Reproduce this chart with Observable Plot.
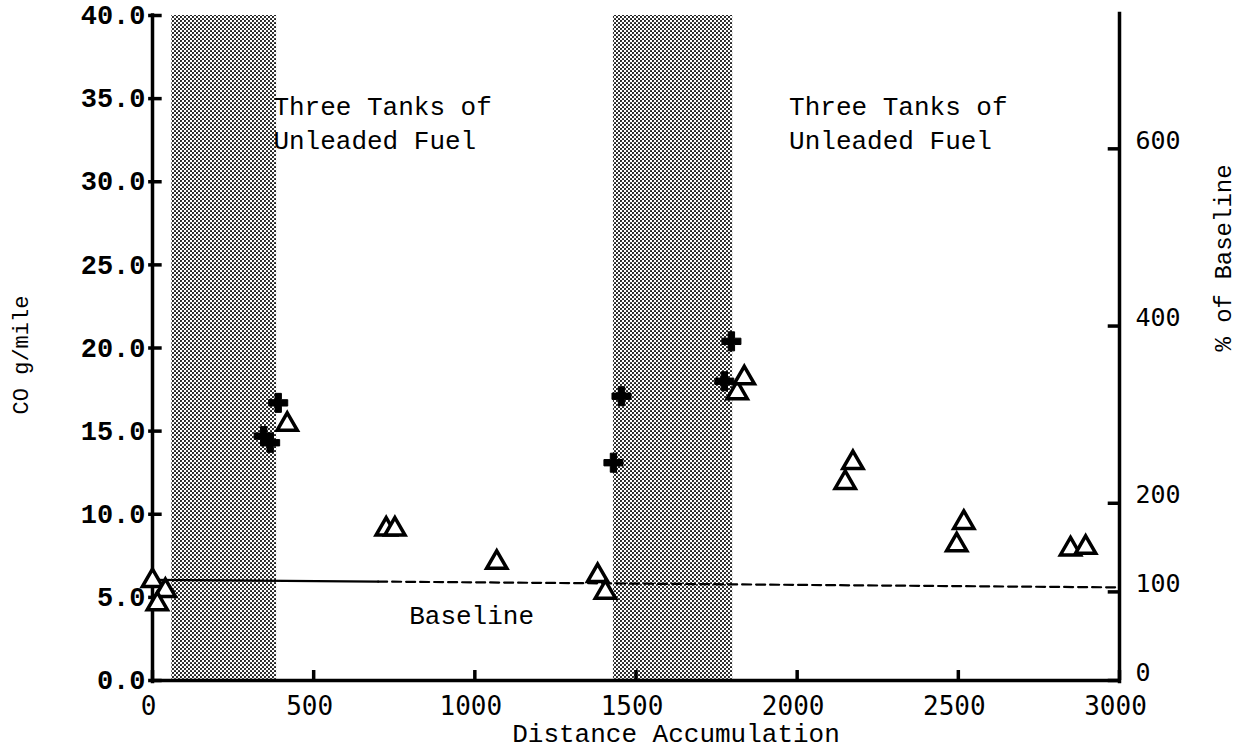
<!DOCTYPE html>
<html><head><meta charset="utf-8">
<script src="https://cdn.jsdelivr.net/npm/d3@7"></script>
<script src="https://cdn.jsdelivr.net/npm/@observablehq/plot@0.6"></script>
<style>body{margin:0;background:#fff}</style>
</head><body><div id="chart"></div>
<script>
// ---- data ----
const xTicks = [0, 500, 1000, 1500, 2000, 2500, 3000];
const yTicks = [0, 5, 10, 15, 20, 25, 30, 35, 40];
const pctTicks = [0, 100, 200, 400, 600];
const pctUnit = 5.33; // g/mile equal to 100 % of baseline (right axis)

const bandStart = [60, 1430];
const bandEnd = [385, 1800];

const plusX = [345, 365, 390, 1430, 1455, 1774, 1796];
const plusY = [14.7, 14.3, 16.7, 13.1, 17.1, 18.0, 20.4];

const triX = [0, 40, 15, 418, 725, 752, 1068, 1381, 1405, 1814, 1836, 2149, 2173, 2495, 2517, 2848, 2895];
const triY = [6.0, 5.4, 4.6, 15.4, 9.1, 9.1, 7.1, 6.3, 5.3, 17.3, 18.2, 11.9, 13.1, 8.15, 9.5, 7.9, 8.0];

const baselineSolidX = [0, 700];
const baselineSolidY = [6.05, 5.95];
const baselineDashX = [700, 3000];
const baselineDashY = [5.95, 5.6];

const tankText = ["Three Tanks of", "Unleaded Fuel", "Three Tanks of", "Unleaded Fuel"];
const tankX = [375, 375, 1975, 1975];
const tankY = [34.5, 32.5, 34.5, 32.5];
const baseLabel = ["Baseline"];
const baseLabelX = [990];
const baseLabelY = [3.9];

// ---- tables ----
const bands = bandStart.map((s, i) => ({start: s, end: bandEnd[i]}));
const pluses = plusX.map((x, i) => ({x, y: plusY[i]}));
const tris = triX.map((x, i) => ({x, y: triY[i]}));
const baseSolid = baselineSolidX.map((x, i) => ({x, y: baselineSolidY[i]}));
const baseDash = baselineDashX.map((x, i) => ({x, y: baselineDashY[i]}));
const tanks = tankText.map((t, i) => ({t, x: tankX[i], y: tankY[i]}));
const baseNote = baseLabel.map((t, i) => ({t, x: baseLabelX[i], y: baseLabelY[i]}));
const pctCO = pctTicks.map(p => p * pctUnit / 100);

const mono = "Liberation Mono, Courier New, monospace";
const sansMono = "DejaVu Sans Mono, monospace";

const chart = Plot.plot({
  width: 1248, height: 750,
  marginLeft: 152, marginRight: 129, marginTop: 15, marginBottom: 70,
  x: {domain: [0, 3000]},
  y: {domain: [0, 40]},
  style: {background: "white", color: "black", fontFamily: mono},
  marks: [
    Plot.rect(bands, {x1: "start", x2: "end", y1: 0, y2: 40, fill: "url(#halftone)"}),
    Plot.line(baseSolid, {x: "x", y: "y", stroke: "black", strokeWidth: 2.2}),
    Plot.line(baseDash, {x: "x", y: "y", stroke: "black", strokeWidth: 2.2, strokeDasharray: "9,5"}),
    // axis lines
    Plot.ruleX([0], {y1: -0.2, y2: 40.1, stroke: "black", strokeWidth: 3.5}),
    Plot.ruleX([3000], {y1: -0.2, y2: 40.2, stroke: "black", strokeWidth: 3.5}),
    Plot.ruleY([0], {x1: 0, x2: 3000, stroke: "black", strokeWidth: 3.5}),
    // tick marks
    Plot.ruleY(yTicks, {x1: -12, x2: 30, stroke: "black", strokeWidth: 3.5}),
    Plot.ruleX(xTicks, {y1: 0, y2: 0.6, stroke: "black", strokeWidth: 3.5}),
    Plot.ruleY(pctCO, {x1: 2965, x2: 3000, stroke: "black", strokeWidth: 3.5}),
    // tick labels
    Plot.axisY({ticks: yTicks, anchor: "left", tickSize: 0, tickPadding: 7,
      tickFormat: d3.format(".1f"), fontSize: 27, fontWeight: "bold", fontFamily: mono, label: null}),
    Plot.axisY({ticks: pctCO, anchor: "right", tickSize: 0, tickPadding: 16,
      tickFormat: v => String(Math.round(v * 100 / pctUnit)), fontSize: 25, fontFamily: sansMono, label: null, dy: -8}),
    Plot.axisX({ticks: xTicks, tickSize: 0, tickPadding: 16, tickFormat: d => String(d),
      fontSize: 26, fontFamily: sansMono, label: null, dx: -4}),
    // axis titles
    Plot.text(["Distance Accumulation"], {frameAnchor: "bottom", lineAnchor: "middle", textAnchor: "middle",
      dx: 40, dy: 53, fontSize: 26, fontFamily: mono}),
    Plot.text(["CO g/mile"], {frameAnchor: "left", textAnchor: "middle", lineAnchor: "middle",
      dx: -132, dy: 7, rotate: -90, fontSize: 22, fontFamily: mono}),
    Plot.text(["% of Baseline"], {frameAnchor: "right", textAnchor: "middle", lineAnchor: "middle",
      dx: 104, dy: -90, rotate: -90, fontSize: 24, fontFamily: mono}),
    // annotations
    Plot.text(tanks, {x: "x", y: "y", text: "t", textAnchor: "start", fontSize: 26, fontFamily: mono}),
    Plot.text(baseNote, {x: "x", y: "y", text: "t", textAnchor: "middle", fontSize: 26, fontFamily: mono}),
    // data points
    Plot.dot(tris, {x: "x", y: "y", symbol: "triangle", r: 7.5, fill: "white", stroke: "black", strokeWidth: 3.5}),
    Plot.dot(pluses, {x: "x", y: "y", symbol: "cross", r: 8, fill: "black", stroke: "black", strokeWidth: 1})
  ]
});

const ns = "http://www.w3.org/2000/svg";
const defs = document.createElementNS(ns, "defs");
defs.innerHTML = '<pattern id="halftone" width="4" height="4" patternUnits="userSpaceOnUse">' +
  '<rect width="4" height="4" fill="white"/>' +
  '<circle cx="1" cy="1" r="1.05" fill="#111"/><circle cx="3" cy="3" r="1.05" fill="#111"/></pattern>';
chart.insertBefore(defs, chart.firstChild);
document.getElementById("chart").appendChild(chart);
</script>
</body></html>
